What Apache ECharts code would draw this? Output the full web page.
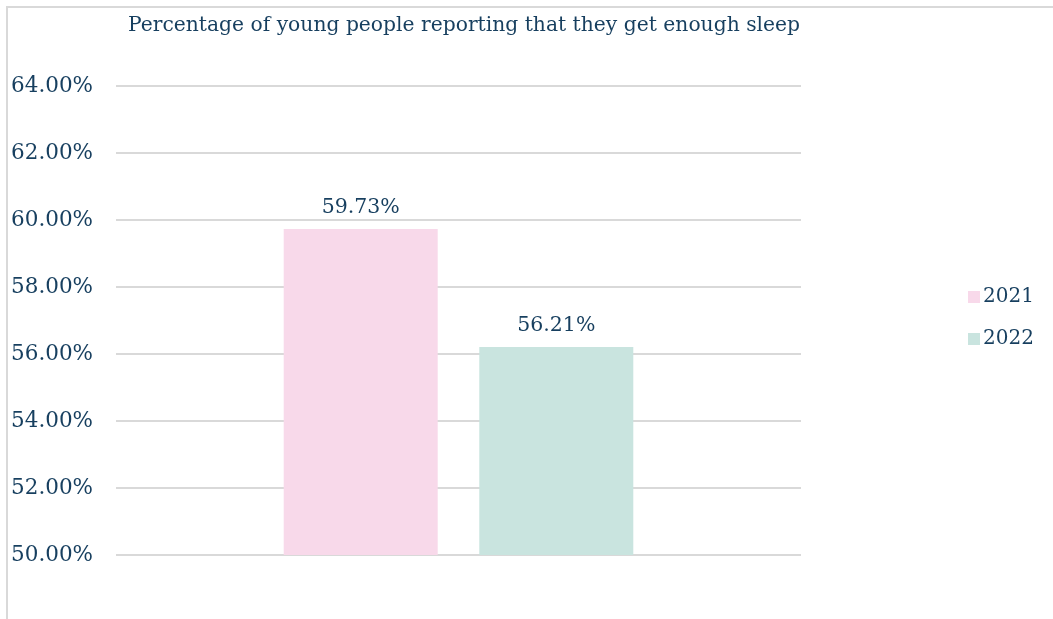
<!DOCTYPE html>
<html>
<head>
<meta charset="utf-8">
<script src="https://cdn.jsdelivr.net/npm/echarts@6/dist/echarts.min.js"></script>
<style>
html,body{margin:0;padding:0;background:#fff;}
#frame{position:absolute;left:6px;top:6px;width:1100px;height:700px;border-left:2px solid #d9d9d9;border-top:2px solid #d9d9d9;}
#c{position:absolute;left:0;top:0;width:1053px;height:619px;}
</style>
</head>
<body>
<div id="frame"></div>
<div id="c"></div>
<script>
const title = 'Percentage of young people reporting that they get enough sleep';
const categories = [''];
const seriesNames = ['2021', '2022'];
const values2021 = [59.73];
const values2022 = [56.21];
const yMin = 50, yMax = 64, yStep = 2;

const textColor = '#173f5f';
const font = 'DejaVu Serif';
const chart = echarts.init(document.getElementById('c'), null, {renderer: 'canvas'});
chart.setOption({
  backgroundColor: 'transparent',
  animation: false,
  textStyle: {fontFamily: font, color: textColor},
  title: {
    text: title, left: 459, top: 11, textAlign: 'center',
    textStyle: {fontFamily: font, fontSize: 20.3, fontWeight: 'normal', color: textColor}
  },
  legend: {
    orient: 'vertical', left: 963, top: 282, itemWidth: 12, itemHeight: 12, itemGap: 22,
    icon: 'rect',
    textStyle: {fontFamily: font, fontSize: 20, color: textColor, padding: [0,0,0,-2]},
    data: seriesNames
  },
  grid: {left: 116, right: 252, top: 86, bottom: 64, containLabel: false},
  xAxis: {
    type: 'category', data: categories,
    axisLine: {show: false}, axisTick: {show: false}, axisLabel: {show: false}
  },
  yAxis: {
    type: 'value', min: yMin, max: yMax, interval: yStep,
    axisLine: {show: false}, axisTick: {show: false},
    splitLine: {lineStyle: {color: '#d9d9d9', width: 2}},
    axisLabel: {
      margin: 23, fontFamily: font, fontSize: 21.5, color: textColor, padding: [5, 0, 0, 0],
      formatter: v => v.toFixed(2) + '%'
    }
  },
  series: [
    {
      name: seriesNames[0], type: 'bar', data: values2021, barWidth: 154, barGap: '27%',
      itemStyle: {color: '#f8d9ea'},
      label: {show: true, position: 'top', distance: 11, fontFamily: font, fontSize: 20.5, color: textColor,
        formatter: p => p.value.toFixed(2) + '%'}
    },
    {
      name: seriesNames[1], type: 'bar', data: values2022, barWidth: 154,
      itemStyle: {color: '#c9e4df'},
      label: {show: true, position: 'top', distance: 11, fontFamily: font, fontSize: 20.5, color: textColor,
        formatter: p => p.value.toFixed(2) + '%'}
    }
  ]
});
</script>
</body>
</html>
